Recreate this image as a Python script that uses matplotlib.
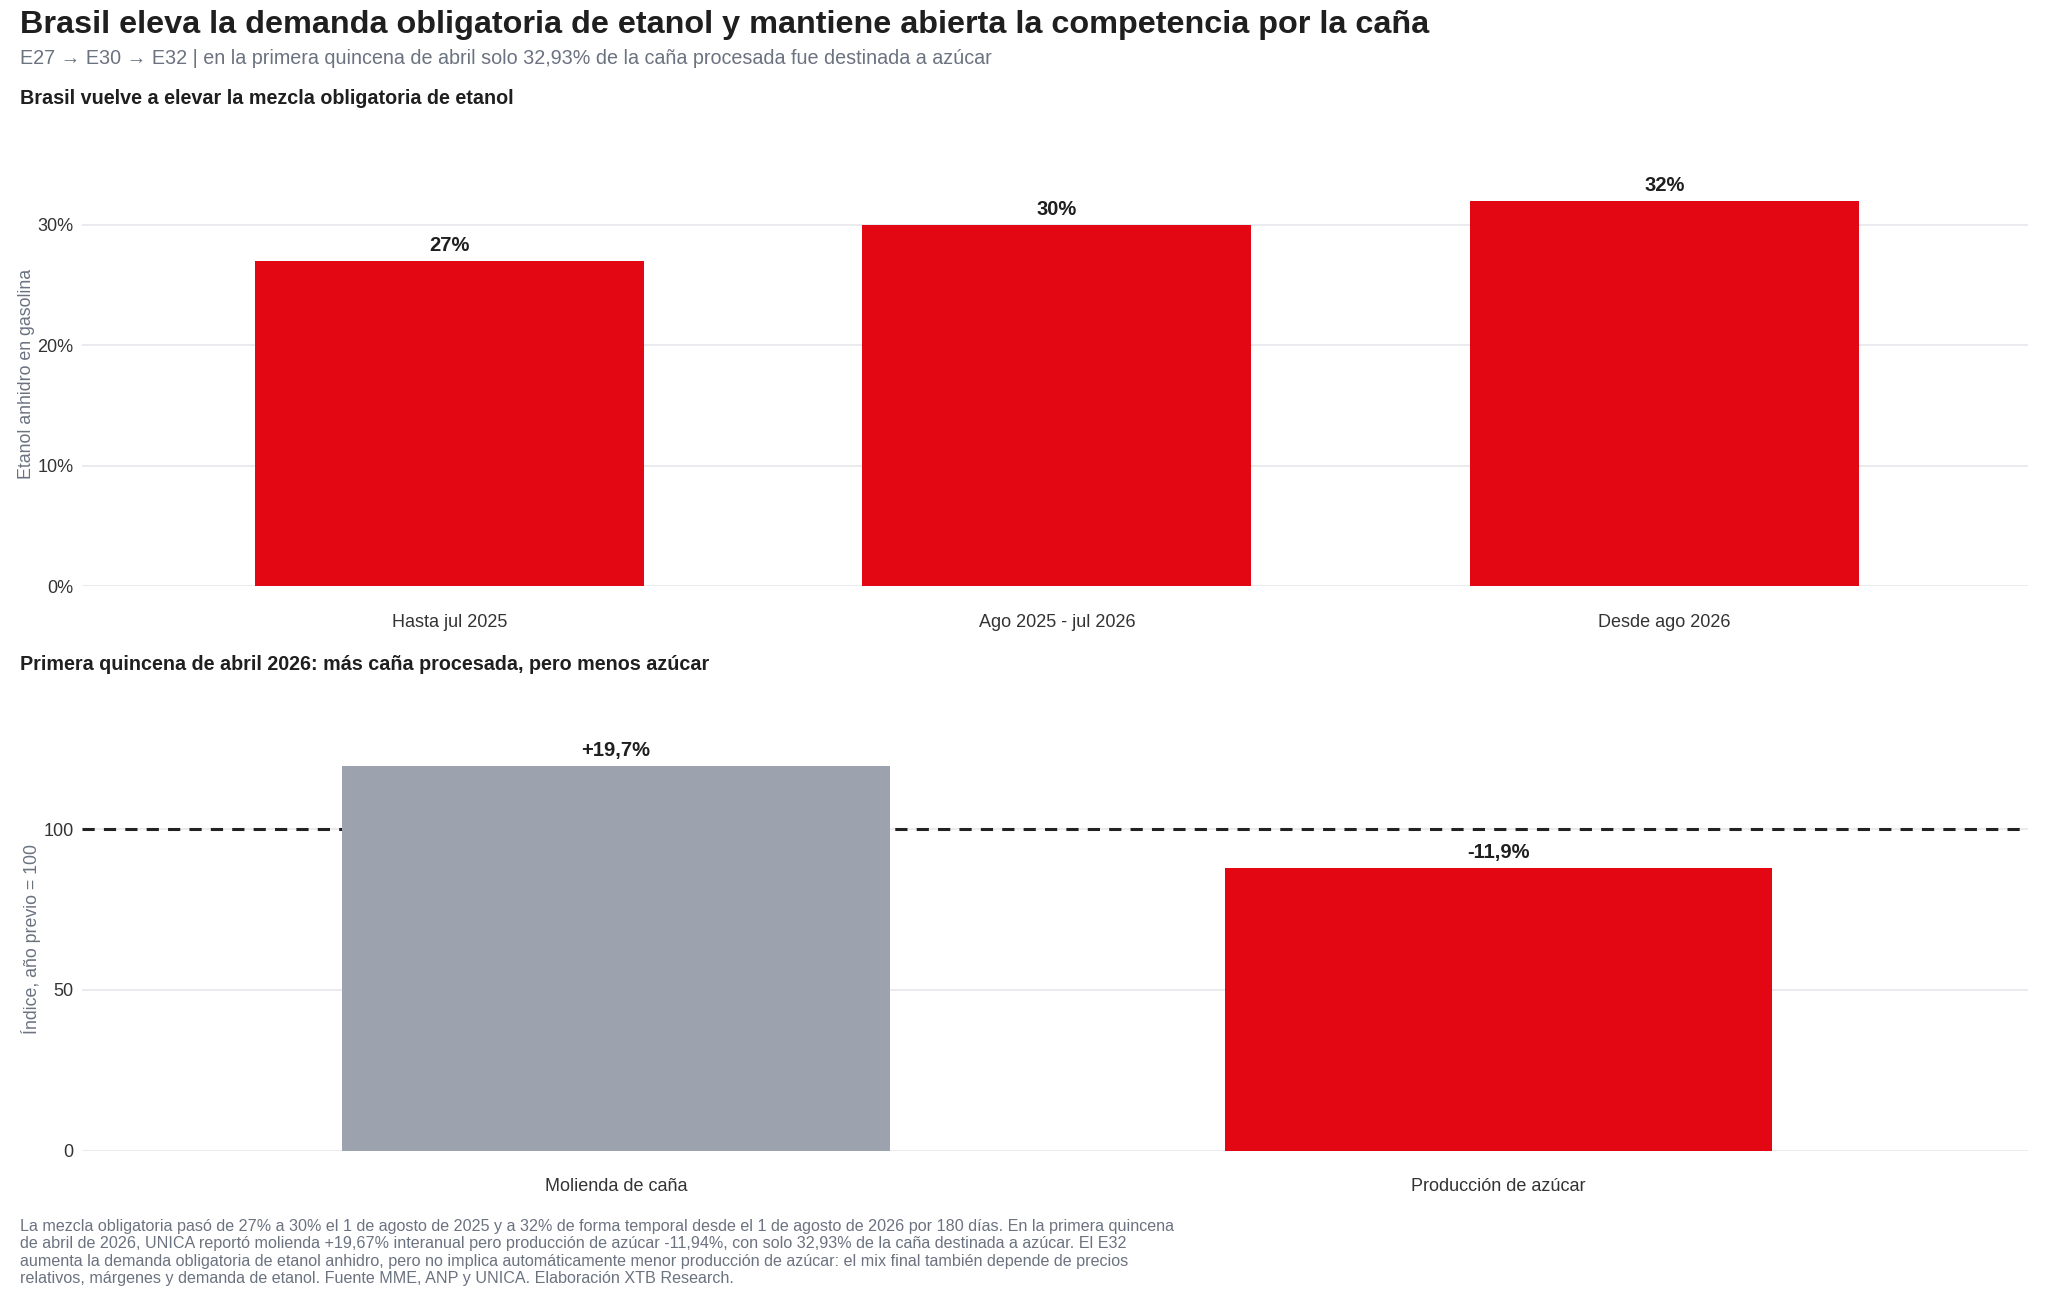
import numpy as np
import matplotlib
matplotlib.use('Agg')
import matplotlib.pyplot as plt

plt.rc('font', family=['Liberation Sans', 'DejaVu Sans'])

# --- data ---
mix_labels = ['Hasta jul 2025', 'Ago 2025 - jul 2026', 'Desde ago 2026']
mix_values = [27, 30, 32]
mix_text = ['27%', '30%', '32%']

unica_labels = ['Molienda de caña', 'Producción de azúcar']
unica_index = [119.7, 88.1]
unica_text = ['+19,7%', '-11,9%']

RED = '#e30613'
GRAY_BAR = '#9ca3af'
GRID = '#e5e7eb'
MUTED = '#6b7280'
DARK = '#1f1f1f'

fig = plt.figure(figsize=(20.48, 12.96), dpi=100)

def style_ax(ax):
    for s in ax.spines.values():
        s.set_visible(False)
    ax.tick_params(axis='both', length=0, labelsize=13, colors='#333333')
    ax.tick_params(axis='x', pad=20)
    ax.tick_params(axis='y', pad=6)
    ax.grid(axis='y', color=GRID, lw=1.2)
    ax.set_axisbelow(True)

# top panel: blend mandate
ax1 = fig.add_axes([0.040, 0.5475, 0.950, 0.3275])
x1 = np.arange(len(mix_values))
ax1.bar(x1, mix_values, width=0.64, color=RED, zorder=2)
for xi, v, t in zip(x1, mix_values, mix_text):
    ax1.text(xi, v + 0.5, t, ha='center', va='bottom', fontsize=14.5,
             fontweight='bold', color=DARK)
ax1.set_xlim(-0.605, 2.598)
ax1.set_ylim(0, 35.2)
ax1.set_yticks([0, 10, 20, 30])
ax1.set_yticklabels(['0%', '10%', '20%', '30%'])
ax1.set_xticks(x1)
ax1.set_xticklabels(mix_labels)
style_ax(ax1)
ax1.set_ylabel('Etanol anhidro en gasolina', color=MUTED, fontsize=12.8, labelpad=2)

# bottom panel: UNICA index
ax2 = fig.add_axes([0.040, 0.1122, 0.950, 0.3265])
x2 = np.arange(len(unica_index))
ax2.bar(x2, unica_index, width=0.62, color=[GRAY_BAR, RED], zorder=2)
ax2.axhline(100, color='#222222', lw=2.2, ls=(0, (4, 3)), zorder=1)
for xi, v, t in zip(x2, unica_index, unica_text):
    ax2.text(xi, v + 1.8, t, ha='center', va='bottom', fontsize=14.5,
             fontweight='bold', color=DARK)
ax2.set_xlim(-0.605, 1.599)
ax2.set_ylim(0, 131.7)
ax2.set_yticks([0, 50, 100])
ax2.set_xticks(x2)
ax2.set_xticklabels(unica_labels)
style_ax(ax2)
ax2.set_ylabel('Índice, año previo = 100', color=MUTED, fontsize=12.8, labelpad=2)

# titles
fig.text(0.0098, 0.981, 'Brasil eleva la demanda obligatoria de etanol y mantiene abierta la competencia por la caña',
         fontsize=23.3, fontweight='bold', color=DARK, va='center')
fig.text(0.0098, 0.955, 'E27 → E30 → E32 | en la primera quincena de abril solo 32,93% de la caña procesada fue destinada a azúcar',
         fontsize=14.2, color=MUTED, va='center')
fig.text(0.0098, 0.924, 'Brasil vuelve a elevar la mezcla obligatoria de etanol',
         fontsize=14.2, fontweight='bold', color=DARK, va='center')
fig.text(0.0098, 0.4876, 'Primera quincena de abril 2026: más caña procesada, pero menos azúcar',
         fontsize=14.2, fontweight='bold', color=DARK, va='center')

note = ('La mezcla obligatoria pasó de 27% a 30% el 1 de agosto de 2025 y a 32% de forma temporal desde el 1 de agosto de 2026 por 180 días. En la primera quincena\n'
        'de abril de 2026, UNICA reportó molienda +19,67% interanual pero producción de azúcar -11,94%, con solo 32,93% de la caña destinada a azúcar. El E32\n'
        'aumenta la demanda obligatoria de etanol anhidro, pero no implica automáticamente menor producción de azúcar: el mix final también depende de precios\n'
        'relativos, márgenes y demanda de etanol. Fuente MME, ANP y UNICA. Elaboración XTB Research.')
fig.text(0.0098, 0.0595, note, fontsize=11.65, color=MUTED, va='top', linespacing=1.2)

fig.savefig('out.png', dpi=100, facecolor='white')
